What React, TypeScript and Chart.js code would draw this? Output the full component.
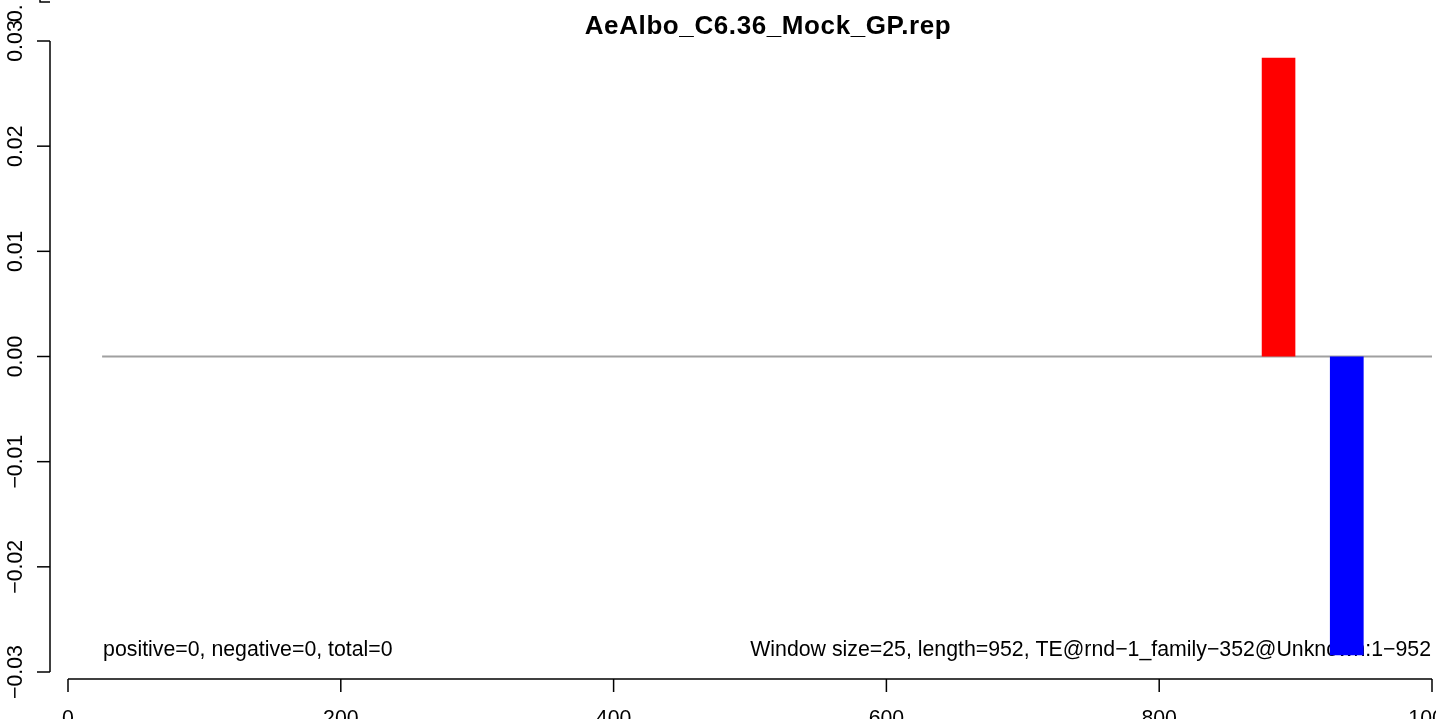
import React, { useEffect, useRef } from "react";
import { Chart, registerables } from "chart.js";

Chart.register(...registerables);

const title = "AeAlbo_C6.36_Mock_GP.rep";
const windowSize = 25;
const positiveStarts = [875];
const positiveValues = [0.0284];
const negativeStarts = [925];
const negativeValues = [-0.0284];
const zeroLineX = [25, 1000];
const xTicks = [0, 200, 400, 600, 800, 1000];
const xTickLabels = ["0", "200", "400", "600", "800", "1000"];
const yTicks = [-0.03, -0.02, -0.01, 0, 0.01, 0.02, 0.03];
const yTickLabels = ["\u22120.03", "\u22120.02", "\u22120.01", "0.00", "0.01", "0.02", "0.03"];
const leftNote = "positive=0, negative=0, total=0";
const rightNote = "Window size=25, length=952, TE@rnd\u22121_family\u2212352@Unknown:1\u2212952";

const FONT = "'Liberation Sans', Arial, Helvetica, sans-serif";
const FS = 21.3;

function barDataset(start: number, value: number, color: string) {
  return {
    type: "line" as const,
    data: [
      { x: start, y: value },
      { x: start + windowSize, y: value },
    ],
    borderWidth: 0,
    borderColor: color,
    backgroundColor: color,
    pointRadius: 0,
    fill: "origin",
    tension: 0,
    order: 1,
  };
}

const rPlotPlugin = {
  id: "rPlot",
  beforeDatasetsDraw(chart: any) {
    const ctx = chart.ctx as CanvasRenderingContext2D;
    const xs = chart.scales.x;
    const ys = chart.scales.y;
    ctx.save();
    ctx.fillStyle = "#000";
    ctx.font = `${FS}px ${FONT}`;
    ctx.textBaseline = "alphabetic";
    ctx.textAlign = "left";
    ctx.fillText(leftNote, xs.getPixelForValue(zeroLineX[0]) + 1, ys.getPixelForValue(-0.0284) + 1);
    ctx.textAlign = "right";
    ctx.fillText(rightNote, xs.getPixelForValue(zeroLineX[1]) - 1, ys.getPixelForValue(-0.0284) + 1);
    ctx.restore();
  },
  afterDraw(chart: any) {
    const ctx = chart.ctx as CanvasRenderingContext2D;
    const xs = chart.scales.x;
    const ys = chart.scales.y;
    const area = chart.chartArea;
    ctx.save();
    ctx.strokeStyle = "#000";
    ctx.fillStyle = "#000";
    ctx.lineWidth = 1.5;

    // Y axis
    const yAxisX = 50;
    ctx.beginPath();
    ctx.moveTo(yAxisX, ys.getPixelForValue(yTicks[0]));
    ctx.lineTo(yAxisX, ys.getPixelForValue(yTicks[yTicks.length - 1]));
    ctx.stroke();
    ctx.font = `${FS}px ${FONT}`;
    yTicks.forEach((v, i) => {
      const py = ys.getPixelForValue(v);
      ctx.beginPath();
      ctx.moveTo(yAxisX - 13, py);
      ctx.lineTo(yAxisX, py);
      ctx.stroke();
      ctx.save();
      ctx.translate(22, py);
      ctx.rotate(-Math.PI / 2);
      ctx.textAlign = "center";
      ctx.textBaseline = "alphabetic";
      ctx.fillText(yTickLabels[i], 0, 0);
      ctx.restore();
    });
    // overlapping artefact at top
    ctx.save();
    ctx.translate(22, 22);
    ctx.rotate(-Math.PI / 2);
    ctx.textAlign = "left";
    ctx.fillText("0.", 0, 0);
    ctx.restore();
    ctx.beginPath();
    ctx.moveTo(40, 0);
    ctx.lineTo(40, 2);
    ctx.lineTo(50, 2);
    ctx.stroke();

    // X axis
    const xAxisY = area.bottom + 7;
    ctx.beginPath();
    ctx.moveTo(xs.getPixelForValue(xTicks[0]), xAxisY);
    ctx.lineTo(xs.getPixelForValue(xTicks[xTicks.length - 1]), xAxisY);
    ctx.stroke();
    ctx.textAlign = "center";
    ctx.textBaseline = "alphabetic";
    xTicks.forEach((v, i) => {
      const px = xs.getPixelForValue(v);
      ctx.beginPath();
      ctx.moveTo(px, xAxisY);
      ctx.lineTo(px, xAxisY + 13);
      ctx.stroke();
      ctx.fillText(xTickLabels[i], px, xAxisY + 46);
    });

    // Title
    ctx.font = `bold 26px ${FONT}`;
    ctx.textAlign = "center";
    (ctx as any).letterSpacing = "0.6px";
    ctx.fillText(title, 768, 34);
    ctx.restore();
  },
};

export default function App() {
  const ref = useRef<HTMLCanvasElement | null>(null);
  useEffect(() => {
    document.body.style.margin = "0";
    const canvas = ref.current;
    if (!canvas) return;
    const datasets: any[] = [];
    datasets.push({
      type: "line",
      data: zeroLineX.map((x) => ({ x, y: 0 })),
      borderColor: "#a0a0a0",
      borderWidth: 2,
      pointRadius: 0,
      fill: false,
      order: 2,
    });
    positiveStarts.forEach((s, i) => datasets.push(barDataset(s, positiveValues[i], "#ff0000")));
    negativeStarts.forEach((s, i) => datasets.push(barDataset(s, negativeValues[i], "#0000ff")));

    const chart = new Chart(canvas, {
      type: "line",
      data: { datasets },
      options: {
        animation: false,
        responsive: false,
        devicePixelRatio: 1,
        layout: { padding: { left: 68, right: 4, top: 41, bottom: 47 } },
        plugins: { legend: { display: false }, tooltip: { enabled: false }, title: { display: false } },
        scales: {
          x: { type: "linear", min: 0, max: 1000, display: false },
          y: { type: "linear", min: -0.03, max: 0.03, display: false },
        },
      },
      plugins: [rPlotPlugin],
    });
    return () => chart.destroy();
  }, []);
  return <canvas ref={ref} width={1436} height={719} style={{ display: "block" }} />;
}
